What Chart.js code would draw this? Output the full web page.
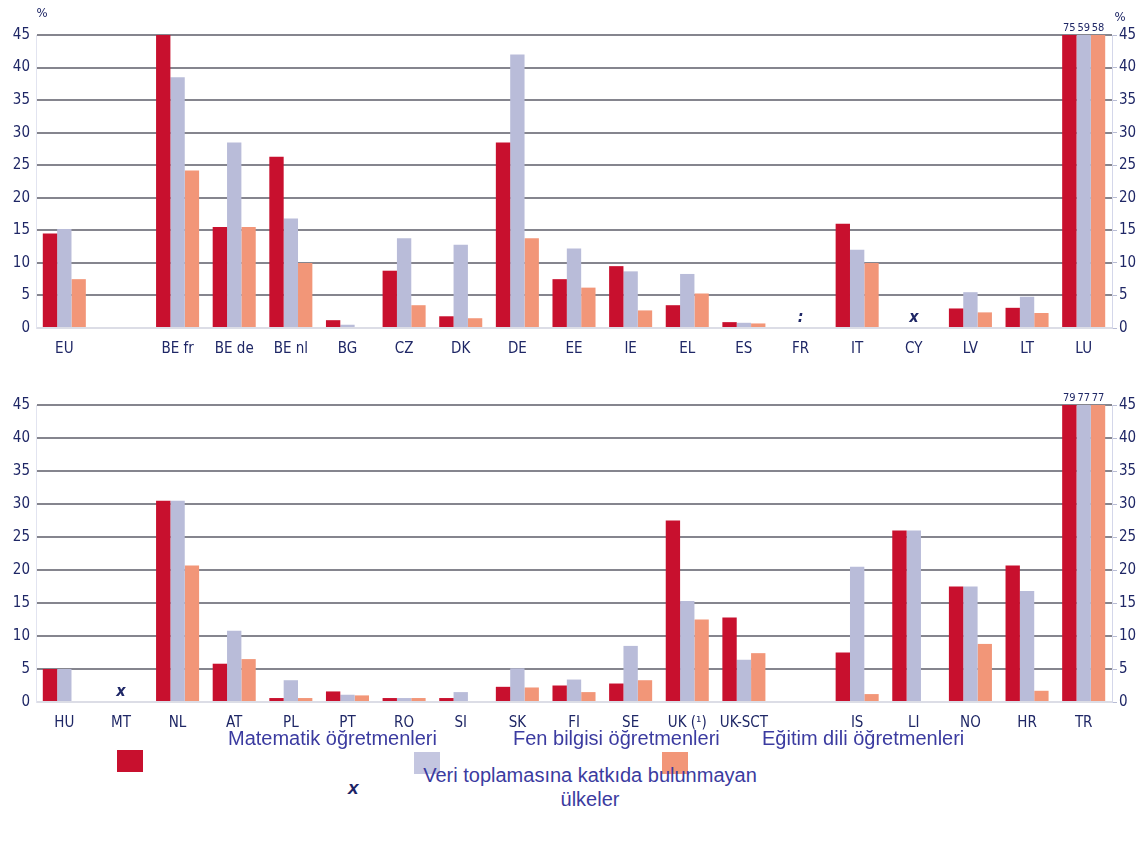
<!DOCTYPE html>
<html>
<head>
<meta charset="utf-8">
<script src="https://cdn.jsdelivr.net/npm/chart.js@4.4.1/dist/chart.umd.min.js"></script>
<style>
  body { margin: 0; background: #fff; width: 1141px; height: 843px; overflow: hidden; position: relative; }
  canvas { position: absolute; left: 0; }
  #chart-top { top: 0; }
  #chart-bottom { top: 370px; }
  .leg { position: absolute; font-family: "Liberation Sans", Arial, sans-serif; font-size: 20px; color: #3b3ba0; white-space: nowrap; }
  .sw { position: absolute; width: 26px; height: 22px; }
</style>
</head>
<body>
<canvas id="chart-top" width="1141" height="362"></canvas>
<canvas id="chart-bottom" width="1141" height="366"></canvas>

<div class="sw" style="left:117px;top:750px;background:#c8102e"></div>
<div class="sw" style="left:414px;top:752px;background:#c4c6e0"></div>
<div class="sw" style="left:662px;top:752px;background:#f29678"></div>
<div class="leg" style="left:228px;top:727px">Matematik öğretmenleri</div>
<div class="leg" style="left:513px;top:727px">Fen bilgisi öğretmenleri</div>
<div class="leg" style="left:762px;top:727px">Eğitim dili öğretmenleri</div>
<div class="leg" style="left:348px;top:777px;font-weight:bold;font-style:italic;color:#1c2466;font-size:19px">x</div>
<div class="leg" style="left:400px;top:763px;width:380px;text-align:center;line-height:24px">Veri toplamasına katkıda bulunmayan<br>ülkeler</div>

<script>
// Top panel
const topLabels = ['EU', '', 'BE fr', 'BE de', 'BE nl', 'BG', 'CZ', 'DK', 'DE', 'EE', 'IE', 'EL', 'ES', 'FR', 'IT', 'CY', 'LV', 'LT', 'LU'];
const topMath = [14.5, null, 45, 15.5, 26.3, 1.2, 8.8, 1.8, 28.5, 7.5, 9.5, 3.5, 0.9, null, 16, null, 3, 3.1, 75];
const topScience = [15.2, null, 38.5, 28.5, 16.8, 0.5, 13.8, 12.8, 42, 12.2, 8.7, 8.3, 0.8, null, 12, null, 5.5, 4.8, 59];
const topLanguage = [7.5, null, 24.2, 15.5, 10, 0, 3.5, 1.5, 13.8, 6.2, 2.7, 5.3, 0.7, null, 10, null, 2.4, 2.3, 58];
const topMarks = [null, null, null, null, null, null, null, null, null, null, null, null, null, ':', null, 'x', null, null, null];

// Bottom panel
const bottomLabels = ['HU', 'MT', 'NL', 'AT', 'PL', 'PT', 'RO', 'SI', 'SK', 'FI', 'SE', 'UK (¹)', 'UK-SCT', '', 'IS', 'LI', 'NO', 'HR', 'TR'];
const bottomMath = [5, null, 30.5, 5.8, 0.6, 1.6, 0.6, 0.6, 2.3, 2.5, 2.8, 27.5, 12.8, null, 7.5, 26, 17.5, 20.7, 79];
const bottomScience = [5, null, 30.5, 10.8, 3.3, 1.1, 0.6, 1.5, 5.1, 3.4, 8.5, 15.3, 6.4, null, 20.5, 26, 17.5, 16.8, 77];
const bottomLanguage = [0, null, 20.7, 6.5, 0.6, 1.0, 0.6, 0, 2.2, 1.5, 3.3, 12.5, 7.4, null, 1.2, 0, 8.8, 1.7, 77];
const bottomMarks = [null, 'x', null, null, null, null, null, null, null, null, null, null, null, null, null, null, null, null, null];

const yTicks = [0, 5, 10, 15, 20, 25, 30, 35, 40, 45];

const NAVY = '#1f2766';
const NARROW = "'DejaVu Sans Condensed', 'DejaVu Sans', sans-serif";
// 'condensed' goes in the weight slot so it lands before the size in the font string
const TICK_FONT = { family: NARROW, weight: 'condensed', size: 15 };

/**
 * Draws the ':' / 'x' markers, the values of clipped bars and the % signs.
 */
const overlayPlugin = {
    id: 'overlay',
    afterDatasetsDraw(chart, args, opts) {
        const ctx = chart.ctx;
        const xs = chart.scales.x;
        const ys = chart.scales.y;
        const area = chart.chartArea;
        ctx.save();
        ctx.fillStyle = NAVY;
        ctx.textAlign = 'center';

        ctx.font = 'bold italic condensed 16px ' + NARROW;
        opts.marks.forEach((m, i) => {
            if (m) ctx.fillText(m, xs.getPixelForValue(i), area.bottom - 6);
        });

        ctx.font = 'condensed 11px ' + NARROW;
        chart.data.datasets.forEach((ds, di) => {
            const meta = chart.getDatasetMeta(di);
            ds.data.forEach((v, i) => {
                if (v != null && v > ys.max) ctx.fillText(String(v), meta.data[i].x, area.top - 4);
            });
        });

        if (opts.percent) {
            ctx.font = 'condensed 13px ' + NARROW;
            ctx.fillText('%', area.left + 6, area.top - 18);
            ctx.fillText('%', area.right + 8, area.top - 14);
        }
        ctx.restore();
    }
};

function makeChart(id, labels, math, science, language, marks, percent) {
    const ctx = document.getElementById(id).getContext('2d');
    return new Chart(ctx, {
        type: 'bar',
        data: {
            labels: labels,
            datasets: [
                { label: 'Matematik öğretmenleri', data: math, backgroundColor: '#c8102e' },
                { label: 'Fen bilgisi öğretmenleri', data: science, backgroundColor: '#b9bcd9' },
                { label: 'Eğitim dili öğretmenleri', data: language, backgroundColor: '#f29678' }
            ]
        },
        options: {
            responsive: false,
            animation: false,
            devicePixelRatio: 1,
            layout: { padding: { top: 35, left: 0, right: 0, bottom: 0 } },
            datasets: { bar: { categoryPercentage: 0.76, barPercentage: 1.0, borderWidth: 0 } },
            plugins: {
                legend: { display: false },
                tooltip: { enabled: false },
                overlay: { marks: marks, percent: percent }
            },
            scales: {
                x: {
                    grid: { display: false },
                    border: { display: false },
                    ticks: { color: NAVY, font: TICK_FONT, padding: 4, maxRotation: 0, autoSkip: false },
                    afterFit: s => { s.height = 34; }
                },
                y: {
                    position: 'left',
                    min: 0, max: 45,
                    afterBuildTicks: s => { s.ticks = yTicks.map(v => ({ value: v })); },
                    grid: {
                        color: c => c.tick.value === 0 ? '#dcdde6' : '#85858e',
                        lineWidth: 2,
                        drawTicks: false
                    },
                    border: { display: true, color: '#e2e4f0', width: 1 },
                    ticks: { color: NAVY, font: TICK_FONT, padding: 6 },
                    afterFit: s => { s.width = 36; }
                },
                y2: {
                    position: 'right',
                    min: 0, max: 45,
                    afterBuildTicks: s => { s.ticks = yTicks.map(v => ({ value: v })); },
                    grid: { drawOnChartArea: false, drawTicks: true, tickLength: 5, color: '#b8bcd4' },
                    border: { display: true, color: '#d4d7ea', width: 1 },
                    ticks: { color: NAVY, font: TICK_FONT, padding: 2 },
                    afterFit: s => { s.width = 29; }
                }
            }
        },
        plugins: [overlayPlugin]
    });
}

makeChart('chart-top', topLabels, topMath, topScience, topLanguage, topMarks, true);
makeChart('chart-bottom', bottomLabels, bottomMath, bottomScience, bottomLanguage, bottomMarks, false);
</script>
</body>
</html>
